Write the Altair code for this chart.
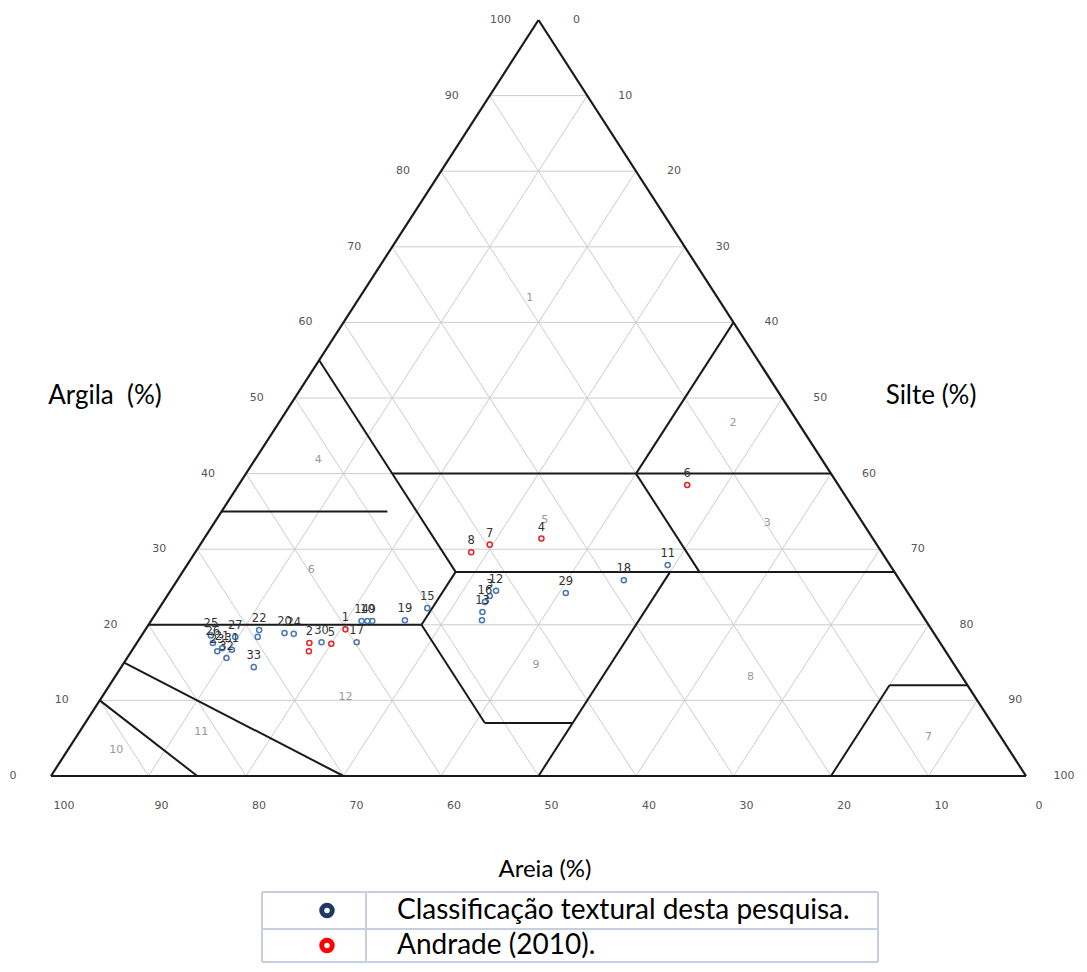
import altair as alt
import pandas as pd

# ---------------- data ----------------
tick_values = [0, 10, 20, 30, 40, 50, 60, 70, 80, 90, 100]
grid_values = [10, 20, 30, 40, 50, 60, 70, 80, 90]

# class boundaries (USDA triangle): segment endpoints as (clay %, silt %)
bnd_clay_start = [10, 15, 20, 20, 7, 0, 0, 12, 27, 20, 27, 35, 40, 40, 27]
bnd_silt_start = [0, 0, 0, 28, 41, 50, 80, 80, 28, 28, 28, 0, 15, 40, 53]
bnd_clay_end = [0, 0, 20, 7, 7, 27, 12, 12, 27, 27, 55, 35, 40, 60, 40]
bnd_silt_end = [15, 30, 28, 41, 50, 50, 80, 88, 73, 28, 0, 17, 60, 40, 40]

# triangle outline corners (clay %, silt %)
outline_clay = [0, 100, 0]
outline_silt = [0, 0, 100]

# class numbers inside the triangle
class_names = ["1", "2", "3", "4", "5", "6", "7", "8", "9", "10", "11", "12"]
class_clay = [63.2, 46.7, 33.5, 41.8, 33.9, 27.2, 5.2, 13.1, 14.7, 3.4, 5.8, 10.4]
class_silt = [17.5, 46.6, 56.7, 6.5, 33.7, 13.1, 87.4, 65.2, 42.4, 5.0, 12.5, 25.0]

# samples of this research (blue)
blue_labels = ["11", "18", "29", "12", "3", "16", "13", "", "15", "19", "14", "10", "9",
               "17", "30", "20", "24", "22", "", "25", "26", "27", "21", "23", "31", "32", "33"]
blue_clay = [27.9, 25.9, 24.2, 24.5, 23.8, 23.0, 21.7, 20.6, 22.2, 20.6, 20.5, 20.5, 20.5,
             17.7, 17.7, 18.9, 18.8, 19.3, 18.4, 18.6, 17.6, 18.4, 16.9, 16.5, 16.7, 15.6, 14.4]
blue_silt = [49.3, 45.8, 40.7, 33.4, 33.1, 33.0, 33.4, 33.9, 27.5, 26.0, 21.6, 22.2, 22.7,
             22.5, 18.9, 14.5, 15.5, 11.7, 12.0, 7.1, 7.8, 9.7, 9.1, 8.8, 10.2, 10.2, 13.6]

# Andrade (2010) samples (red)
red_labels = ["6", "4", "7", "8", "1", "2", "", "5"]
red_clay = [38.5, 31.4, 30.6, 29.6, 19.4, 17.6, 16.5, 17.5]
red_silt = [46.0, 34.6, 29.7, 28.3, 20.5, 17.7, 18.2, 20.0]

legend_labels = ["Classificação textural desta pesquisa.", "Andrade (2010)."]
legend_colors = ["#1f3864", "#ff0000"]

axis_titles = ["Argila\u00a0\u00a0(%)", "Silte (%)", "Areia (%)"]

# ---------------- layout ----------------
W, H = 1071, 956
PX_PER_X = 975 / 100.0
PX_PER_Y = 756 / 100.0
XD0 = -(51 - 8) / PX_PER_X
XD1 = XD0 + W / PX_PER_X
YD1 = 100 + (20 - 8) / PX_PER_Y
YD0 = YD1 - H / PX_PER_Y

xs = alt.Scale(domain=[XD0, XD1], nice=False, zero=False)
ys = alt.Scale(domain=[YD0, YD1], nice=False, zero=False)


def cart(clay, silt):
    return silt + clay / 2.0, clay


def seg_frame(c1, s1, c2, s2):
    rows = []
    for a, b, c, d in zip(c1, s1, c2, s2):
        x1, y1 = cart(a, b)
        x2, y2 = cart(c, d)
        rows.append({"x1": x1, "y1": y1, "x2": x2, "y2": y2})
    return pd.DataFrame(rows)


g_c1, g_s1, g_c2, g_s2 = [], [], [], []
for k in grid_values:
    g_c1.append(k); g_s1.append(0); g_c2.append(k); g_s2.append(100 - k)
    g_c1.append(0); g_s1.append(k); g_c2.append(100 - k); g_s2.append(k)
    g_c1.append(0); g_s1.append(100 - k); g_c2.append(100 - k); g_s2.append(0)
grid_df = seg_frame(g_c1, g_s1, g_c2, g_s2)
bnd_df = seg_frame(bnd_clay_start, bnd_silt_start, bnd_clay_end, bnd_silt_end)
out_df = seg_frame(outline_clay, outline_silt, outline_clay[1:] + outline_clay[:1],
                   outline_silt[1:] + outline_silt[:1])


def seg_layer(df, color, width):
    return alt.Chart(df).mark_rule(color=color, strokeWidth=width).encode(
        x=alt.X("x1:Q", scale=xs, axis=None),
        y=alt.Y("y1:Q", scale=ys, axis=None),
        x2="x2:Q",
        y2="y2:Q",
    )


grid = seg_layer(grid_df, "#cccccc", 1)
bounds = seg_layer(bnd_df, "#1a1a1a", 2)
outline = seg_layer(out_df, "#1a1a1a", 2.2)

left_df = pd.DataFrame({"t": [str(v) for v in tick_values],
                        "x": [v / 2.0 for v in tick_values],
                        "y": tick_values})
right_df = pd.DataFrame({"t": [str(v) for v in tick_values],
                         "x": [50 + v / 2.0 for v in tick_values],
                         "y": [100 - v for v in tick_values]})
bottom_df = pd.DataFrame({"t": [str(v) for v in tick_values],
                          "x": [100 - v for v in tick_values],
                          "y": [0 for v in tick_values]})


def tick_layer(df, dx, dy):
    return alt.Chart(df).mark_text(fontSize=11, font="DejaVu Sans", color="#555555",
                                   dx=dx, dy=dy, baseline="middle", align="center").encode(
        x=alt.X("x:Q", scale=xs, axis=None),
        y=alt.Y("y:Q", scale=ys, axis=None),
        text="t:N",
    )


ticks_left = tick_layer(left_df, -38, 0)
ticks_right = tick_layer(right_df, 38, 0)
ticks_bottom = tick_layer(bottom_df, 13, 30)

cls_df = pd.DataFrame({"t": class_names, "clay": class_clay, "silt": class_silt})
cls_df["x"] = cls_df["silt"] + cls_df["clay"] / 2
cls_df["y"] = cls_df["clay"]
classes = alt.Chart(cls_df).mark_text(fontSize=11, font="DejaVu Sans", color="#999999",
                                      baseline="middle").encode(
    x=alt.X("x:Q", scale=xs, axis=None),
    y=alt.Y("y:Q", scale=ys, axis=None),
    text="t:N",
)


def pts_frame(labels, clay, silt):
    df = pd.DataFrame({"t": labels, "clay": clay, "silt": silt})
    df["x"] = df["silt"] + df["clay"] / 2
    df["y"] = df["clay"]
    return df


blue_df = pts_frame(blue_labels, blue_clay, blue_silt)
red_df = pts_frame(red_labels, red_clay, red_silt)


def pts_layer(df, color):
    p = alt.Chart(df).mark_point(shape="circle", filled=False, size=26, strokeWidth=1.5,
                                 color=color, opacity=1).encode(
        x=alt.X("x:Q", scale=xs, axis=None),
        y=alt.Y("y:Q", scale=ys, axis=None),
    )
    t = alt.Chart(df).mark_text(fontSize=11.5, font="DejaVu Sans", color="#333333",
                                dy=-11, baseline="middle").encode(
        x=alt.X("x:Q", scale=xs, axis=None),
        y=alt.Y("y:Q", scale=ys, axis=None),
        text="t:N",
    )
    return [p, t]


dummy = pd.DataFrame({"a": [0]})

title_pos = [(97, 388), (923, 388), (537, 862)]
title_size = [26, 26, 24]
titles = [
    alt.Chart(dummy).mark_text(text=txt, fontSize=fs, font="Lato", color="#000000",
                               align="center", baseline="middle").encode(
        x=alt.value(px), y=alt.value(py))
    for txt, (px, py), fs in zip(axis_titles, title_pos, title_size)
]

L_X0, L_X1, L_X2 = 254, 358, 870
L_Y = [884, 921, 954]
border = "#c5cfdf"
legend_layers = []
for yy in L_Y:
    legend_layers.append(alt.Chart(dummy).mark_rule(color=border, strokeWidth=2).encode(
        x=alt.value(L_X0), x2=alt.value(L_X2), y=alt.value(yy), y2=alt.value(yy)))
for xx in [L_X0, L_X1, L_X2]:
    legend_layers.append(alt.Chart(dummy).mark_rule(color=border, strokeWidth=2).encode(
        x=alt.value(xx), x2=alt.value(xx), y=alt.value(L_Y[0]), y2=alt.value(L_Y[-1])))
for i, (lab, col) in enumerate(zip(legend_labels, legend_colors)):
    cy = (L_Y[i] + L_Y[i + 1]) / 2.0
    legend_layers.append(alt.Chart(dummy).mark_point(shape="circle", filled=False, size=110,
                                                     strokeWidth=5, color=col, opacity=1).encode(
        x=alt.value(319), y=alt.value(cy)))
    legend_layers.append(alt.Chart(dummy).mark_text(text=lab, fontSize=28, font="Lato",
                                                    color="#000000", align="left",
                                                    baseline="middle").encode(
        x=alt.value(389), y=alt.value(cy)))

layers = [grid, bounds, outline, ticks_left, ticks_right, ticks_bottom, classes]
layers += pts_layer(blue_df, "#4a78b5")
layers += pts_layer(red_df, "#e0262b")
layers += titles + legend_layers

chart = alt.layer(*layers).properties(
    width=W, height=H, padding=0,
    autosize=alt.AutoSizeParams(type="none"),
    background="white",
).configure_view(stroke=None)

chart.save("out.html", embed_options={"renderer": "svg", "actions": False})
